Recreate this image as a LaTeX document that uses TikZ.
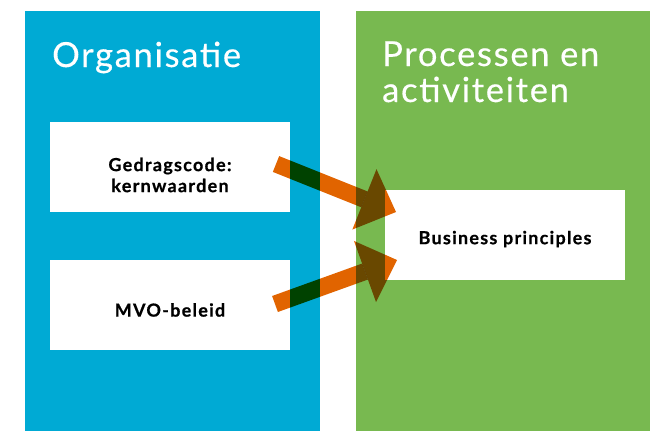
\documentclass[tikz,border=0pt]{standalone}
\usepackage{fontspec}
\setmainfont{Lato}
\newfontfamily\titlefont[LetterSpace=5,FakeBold=0.4]{Lato}
\newfontfamily\labelfont[LetterSpace=7,BoldFeatures={FakeBold=0.6}]{Lato}
\usetikzlibrary{arrows.meta}
\definecolor{orgblue}{RGB}{0,170,212}
\definecolor{procgreen}{RGB}{120,185,80}
\definecolor{arroworange}{RGB}{225,100,0}
\tikzset{
  panel/.style={inner sep=0pt, outer sep=0pt, anchor=north west},
  whitebox/.style={fill=white, minimum width=240pt, minimum height=90pt, inner sep=0pt, outer sep=0pt},
  boxlabel/.style={inner sep=0pt, align=center, text=black, font=\labelfont\fontsize{18}{21}\selectfont\bfseries},
  title/.style={anchor=base west, inner sep=0pt, text=white, align=left, font=\titlefont\fontsize{34.5}{36}\selectfont},
  bigarrow/.style={draw=arroworange, line width=17pt, -{Triangle[length=34pt, width=65pt, line width=0pt, fill=arroworange]}}
}
\begin{document}
\begin{tikzpicture}[x=1pt, y=-1pt]
\useasboundingbox (0,0) rectangle (650,431);
\fill[white] (0,0) rectangle (650,431);
\node[panel, fill=orgblue, minimum width=295pt, minimum height=420pt] (org) at (25,11) {};
\node[panel, fill=procgreen, minimum width=294pt, minimum height=420pt] (proc) at (356,11) {};
\node[title] (orgtitle) at (52,67) {Organisatie};
\node[title] (proctitle) at (382,102) {Processen en\\activiteiten};
\node[whitebox] (gedrag) at (170,167) {};
\node[whitebox] (mvo) at (170,305) {};
\node[whitebox] (bp) at (505,235) {};
\node[boxlabel] (gedraglabel) at ([yshift=-8pt]gedrag.center) {Gedragscode:\\kernwaarden};
\node[boxlabel] (mvolabel) at ([yshift=-5pt]mvo.center) {MVO-beleid};
\node[boxlabel] (bplabel) at ([yshift=-4pt]bp.center) {Business principles};
\coordinate (t1) at (276,164);
\coordinate (h1) at (396,212);
\coordinate (t2) at (275,304);
\coordinate (h2) at (397,260);
\draw[bigarrow, blend mode=multiply] (t1) -- (h1);
\draw[bigarrow, blend mode=multiply] (t2) -- (h2);
\end{tikzpicture}
\end{document}
